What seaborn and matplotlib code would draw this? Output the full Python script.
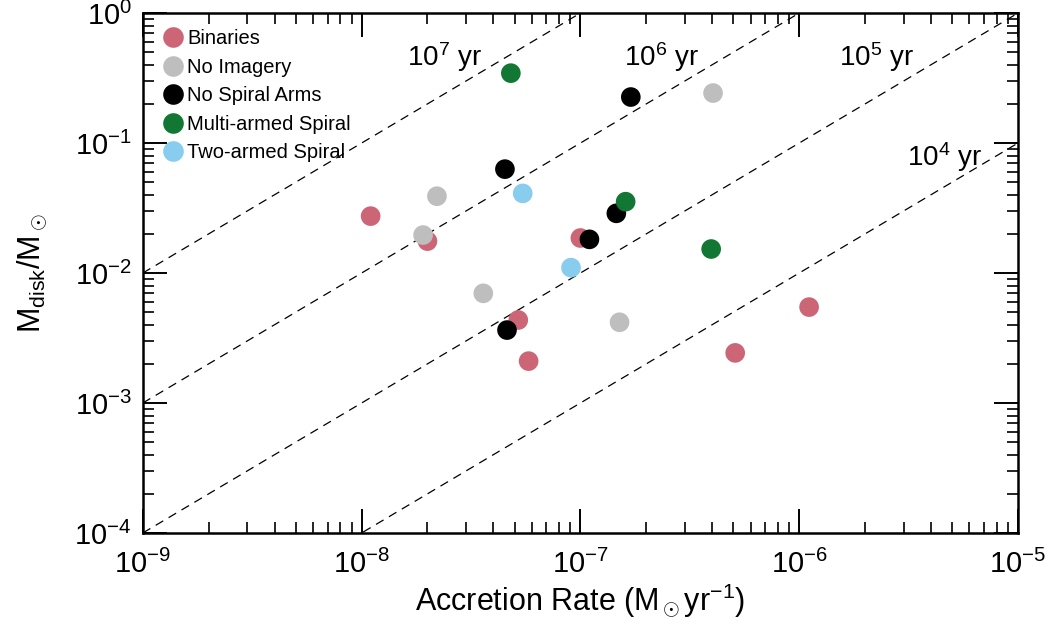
import numpy as np
import pandas as pd
import matplotlib
matplotlib.use("Agg")
import matplotlib.pyplot as plt
import seaborn as sns
from matplotlib.ticker import LogLocator, NullFormatter, FixedLocator

# ---- data ----
binaries_x = [1.1e-8, 2.0e-8, 1.0e-7, 5.2e-8, 5.8e-8, 1.11e-6, 5.1e-7]
binaries_y = [0.0274, 0.0176, 0.0186, 0.00435, 0.0021, 0.00547, 0.00243]
noimg_x = [2.21e-8, 1.91e-8, 3.6e-8, 1.51e-7, 4.04e-7]
noimg_y = [0.039, 0.0196, 0.00698, 0.00418, 0.2425]
nospiral_x = [4.52e-8, 1.46e-7, 1.10e-7, 4.62e-8, 1.70e-7]
nospiral_y = [0.063, 0.0288, 0.01816, 0.00364, 0.226]
multi_x = [4.81e-8, 1.61e-7, 3.96e-7]
multi_y = [0.345, 0.0354, 0.0153]
two_x = [5.45e-8, 9.06e-8]
two_y = [0.041, 0.011]

categories = ["Binaries", "No Imagery", "No Spiral Arms", "Multi-armed Spiral", "Two-armed Spiral"]
colors = ["#CC6677", "#BEBEBE", "#000000", "#117733", "#88CCEE"]
timescales = [1e7, 1e6, 1e5, 1e4]
time_labels = [r"10$^7$ yr", r"10$^6$ yr", r"10$^5$ yr", r"10$^4$ yr"]
xticks = [1e-9, 1e-8, 1e-7, 1e-6, 1e-5]
yticks = [1e-4, 1e-3, 1e-2, 1e-1, 1e0]

rows = []
for cat, xs, ys in zip(categories,
                       [binaries_x, noimg_x, nospiral_x, multi_x, two_x],
                       [binaries_y, noimg_y, nospiral_y, multi_y, two_y]):
    for x, y in zip(xs, ys):
        rows.append((cat, x, y))
df = pd.DataFrame(rows, columns=["cat", "rate", "mdisk"])

sns.set_style("ticks")
plt.rcParams["font.family"] = ["Liberation Sans", "DejaVu Sans"]
plt.rcParams["mathtext.fontset"] = "custom"
plt.rcParams["mathtext.rm"] = "Liberation Sans"
plt.rcParams["mathtext.it"] = "Liberation Sans:italic"
plt.rcParams["mathtext.bf"] = "Liberation Sans:bold"
for k in ["text.color", "axes.labelcolor", "xtick.color", "ytick.color", "axes.edgecolor"]:
    plt.rcParams[k] = "black"

fig = plt.figure(figsize=(10.5, 6.23), dpi=100)
ax = fig.add_axes([0.136, 0.1445, 0.8335, 0.8345])

xlim = (xticks[0], xticks[-1])
ylim = (yticks[0], yticks[-1])
xx = np.array(xlim)
for t in timescales:
    ax.plot(xx, xx * t, ls=(0, (7, 5)), color="black", lw=0.9, zorder=1)

sns.scatterplot(data=df, x="rate", y="mdisk", hue="cat", hue_order=categories,
                palette=colors, s=200, edgecolor="none", ax=ax, zorder=3, legend=True)

ax.set_xscale("log")
ax.set_yscale("log")
ax.set_xlim(xlim)
ax.set_ylim(ylim)

# annotations for timescales
ann_pos = [(2.4e-8, 0.46), (2.35e-7, 0.46), (2.25e-6, 0.46), (4.6e-6, 0.078)]
for (x, y), lab in zip(ann_pos, time_labels):
    ax.text(x, y, lab, fontsize=20, ha="center", va="center", zorder=2)

ax.xaxis.set_major_locator(FixedLocator(xticks))
ax.yaxis.set_major_locator(FixedLocator(yticks))
ax.xaxis.set_minor_locator(LogLocator(base=10, subs=np.arange(2, 10), numticks=20))
ax.yaxis.set_minor_locator(LogLocator(base=10, subs=np.arange(2, 10), numticks=20))
ax.xaxis.set_minor_formatter(NullFormatter())
ax.yaxis.set_minor_formatter(NullFormatter())

ax.tick_params(which="major", direction="in", length=17, width=1.4, top=True, right=True,
               labelsize=21)
ax.tick_params(axis="x", which="major", pad=12)
ax.tick_params(axis="y", which="major", pad=8)
ax.tick_params(which="minor", direction="in", length=8, width=1.2, top=True, right=True)
for sp in ax.spines.values():
    sp.set_linewidth(1.8)

ax.set_xlabel(r"Accretion Rate (M$_\odot$yr$^{-1}$)", fontsize=22, labelpad=2)
ax.set_ylabel(r"M$_{\rm disk}$/M$_\odot$", fontsize=22, labelpad=18)

leg = ax.legend(loc="upper left", frameon=False, fontsize=14.5, handletextpad=0.0,
                handlelength=1.4, labelspacing=0.47, borderaxespad=0.4, borderpad=0.4,
                markerscale=1.05, title=None)

fig.savefig("out.png", dpi=100)
